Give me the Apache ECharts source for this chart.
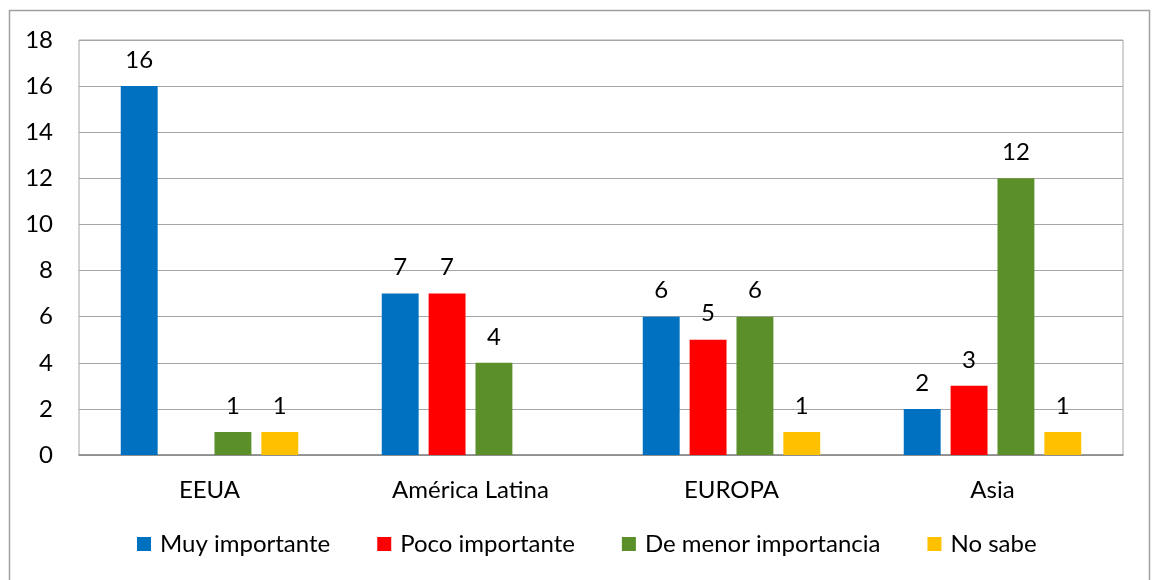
<!DOCTYPE html>
<html>
<head>
<meta charset="utf-8">
<script src="https://cdn.jsdelivr.net/npm/echarts@6/dist/echarts.min.js"></script>
<style>
  html, body { margin: 0; padding: 0; background: #fff; }
  #chart { width: 1153px; height: 580px; }
</style>
</head>
<body>
<div id="chart"></div>
<script>
// Regions and answers
const categories = ['EEUA', 'América Latina', 'EUROPA', 'Asia'];
const seriesNames = ['Muy importante', 'Poco importante', 'De menor importancia', 'No sabe'];
const muyImportante = [16, 7, 6, 2];
const pocoImportante = [null, 7, 5, 3];
const deMenorImportancia = [1, 4, 6, 12];
const noSabe = [1, null, 1, 1];
const yTicks = [0, 2, 4, 6, 8, 10, 12, 14, 16, 18];

const colors = ['#0070C0', '#FF0000', '#5B8F29', '#FFC000'];
const FONT = 'Lato';
const values = [muyImportante, pocoImportante, deMenorImportancia, noSabe];

const chart = echarts.init(document.getElementById('chart'), null, { renderer: 'canvas' });

chart.setOption({
  backgroundColor: '#ffffff',
  animation: false,
  textStyle: { fontFamily: FONT, color: '#000' },
  grid: {
    left: 79, right: 30, top: 40, bottom: 125,
    show: true, borderColor: '#a6a6a6', borderWidth: 1
  },
  legend: {
    bottom: 19,
    left: 132,
    itemWidth: 14, itemHeight: 14,
    itemGap: 47,
    icon: 'rect',
    textStyle: { fontFamily: FONT, fontSize: 24, color: '#000', padding: [0, 0, 0, 4] },
    data: seriesNames
  },
  xAxis: {
    type: 'category',
    data: categories,
    axisLine: { lineStyle: { color: '#868686', width: 1.5 } },
    axisTick: { show: false },
    axisLabel: { fontFamily: FONT, fontSize: 24, color: '#000', margin: 23 }
  },
  yAxis: {
    type: 'value',
    min: yTicks[0],
    max: yTicks[yTicks.length - 1],
    interval: 2,
    axisLine: { show: false },
    axisTick: { show: false },
    splitLine: { lineStyle: { color: '#a6a6a6', width: 1 } },
    axisLabel: { fontFamily: FONT, fontSize: 24, color: '#000', margin: 26 }
  },
  graphic: [{
    type: 'rect',
    shape: { x: 9.5, y: 10.5, width: 1140, height: 600 },
    style: { fill: 'none', stroke: '#a0a0a0', lineWidth: 1.5 },
    silent: true
  }],
  series: seriesNames.map((name, i) => ({
    name: name,
    type: 'bar',
    data: values[i],
    barGap: '27%',
    barCategoryGap: '32%',
    itemStyle: { color: colors[i] },
    label: {
      show: true,
      position: 'top',
      distance: 14,
      fontFamily: FONT,
      fontSize: 24,
      color: '#000'
    }
  }))
});
</script>
</body>
</html>
